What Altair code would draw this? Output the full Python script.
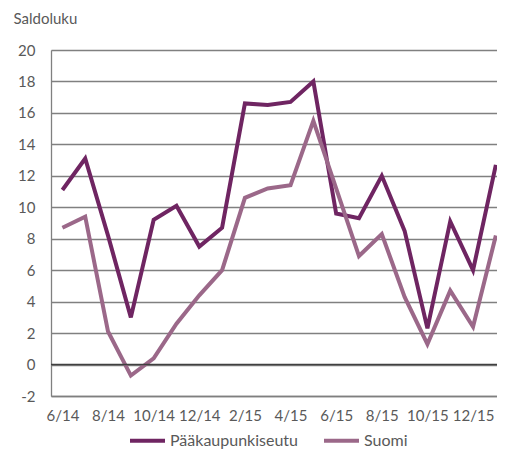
import altair as alt
import pandas as pd

months = ["6/14", "7/14", "8/14", "9/14", "10/14", "11/14", "12/14", "1/15",
          "2/15", "3/15", "4/15", "5/15", "6/15", "7/15", "8/15", "9/15",
          "10/15", "11/15", "12/15", "1/16"]
paakaupunkiseutu = [11.1, 13.1, 8.2, 3.0, 9.2, 10.1, 7.5, 8.7, 16.6, 16.5,
                    16.7, 18.0, 9.6, 9.3, 12.0, 8.5, 2.3, 9.1, 6.0, 12.7]
suomi = [8.7, 9.4, 2.1, -0.7, 0.4, 2.6, 4.4, 6.0, 10.6, 11.2,
         11.4, 15.5, 11.2, 6.9, 8.3, 4.3, 1.3, 4.7, 2.4, 8.2]
series_names = ["Pääkaupunkiseutu", "Suomi"]
series_colors = ["#6f2562", "#9b6889"]
y_ticks = list(range(-2, 21, 2))
x_ticks = list(range(0, 20, 2))

rows = []
for i, m in enumerate(months):
    rows.append({"idx": i, "month": m, "series": series_names[0], "value": paakaupunkiseutu[i]})
    rows.append({"idx": i, "month": m, "series": series_names[1], "value": suomi[i]})
df = pd.DataFrame(rows)

FONT = "Lato"
GREY = "#595959"
label_expr = "[" + ",".join("'" + m + "'" for m in months) + "][datum.value]"

y_scale = alt.Scale(domain=[-2, 20], nice=False, zero=False)
y_axis = alt.Axis(values=y_ticks, grid=True, gridColor="#808080", gridWidth=1.3,
                  ticks=False, tickSize=0, domain=True, domainColor="#808080",
                  domainWidth=1.3, labelFont=FONT, labelFontSize=15,
                  labelColor=GREY, labelPadding=16, labelOverlap=False,
                  labelExpr="datum.value < 0 ? '-' + abs(datum.value) : '' + datum.value",
                  title="Saldoluku", titleAngle=0, titleAlign="left",
                  titleBaseline="middle", titleX=-38, titleY=-32,
                  titleFont=FONT, titleFontSize=15, titleFontWeight="normal",
                  titleColor=GREY)

x_enc = alt.X("idx:Q",
              scale=alt.Scale(domain=[-0.5, 19.05], nice=False, zero=False),
              axis=alt.Axis(values=x_ticks, labelExpr=label_expr, grid=False,
                            ticks=False, tickSize=0, domain=True, domainColor="#7f7f7f",
                            domainWidth=1.5, labelFont=FONT, labelFontSize=15,
                            labelColor=GREY, labelPadding=12, labelOverlap=False,
                            title=None))

zero_df = pd.DataFrame({"value": [0]})
zero_rule = alt.Chart(zero_df).mark_rule(color="#404040", strokeWidth=1.5).encode(
    y=alt.Y("value:Q", scale=y_scale, axis=y_axis)
)

lines = alt.Chart(df).mark_line(strokeWidth=4, strokeJoin="miter").encode(
    x=x_enc,
    y=alt.Y("value:Q", scale=y_scale, axis=y_axis),
    color=alt.Color("series:N",
                    scale=alt.Scale(domain=series_names, range=series_colors),
                    legend=alt.Legend(orient="none", direction="horizontal",
                                      legendX=77, legendY=371, title=None,
                                      symbolType="stroke", symbolSize=1225,
                                      symbolStrokeWidth=4, labelFont=FONT,
                                      labelFontSize=16, labelColor=GREY,
                                      labelOffset=3, columnPadding=18)),
)

chart = alt.layer(lines, zero_rule).properties(
    width=446, height=346,
    autosize=alt.AutoSizeParams(type="none"),
    padding={"left": 43, "top": 42, "right": 0, "bottom": 53},
).configure_view(stroke=None).configure(background="white")

chart.save("out.html", embed_options={"renderer": "svg", "actions": False})
